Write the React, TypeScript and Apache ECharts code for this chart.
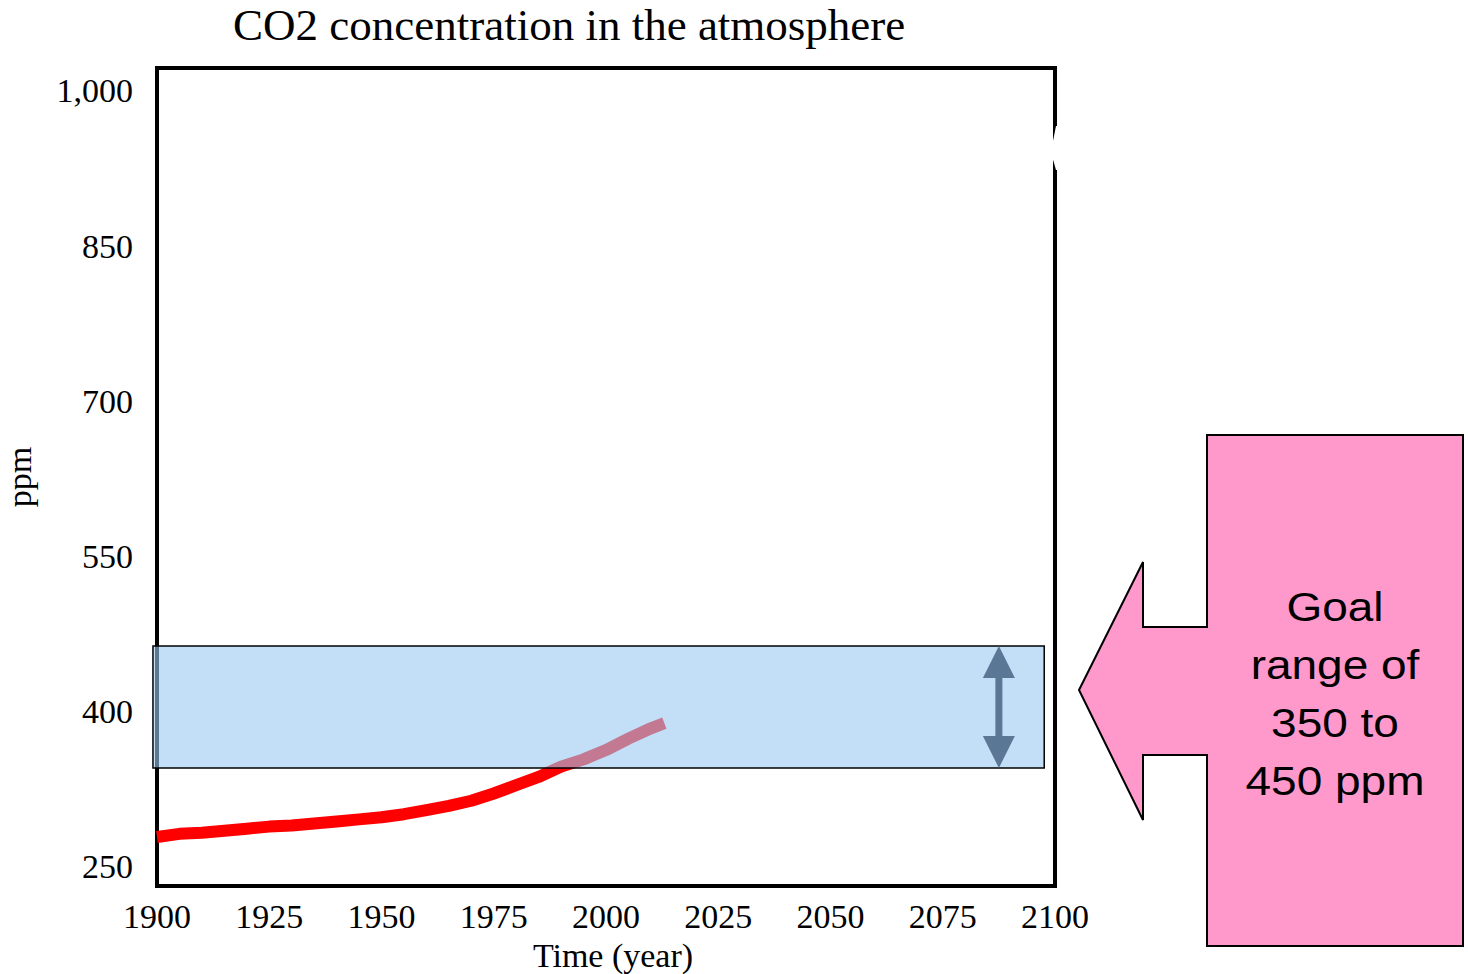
import React, { useEffect, useRef } from "react";
import * as echarts from "echarts";

const years = [1900, 1905, 1910, 1915, 1920, 1925, 1930, 1935, 1940, 1945, 1950, 1955, 1960, 1965, 1970, 1975, 1980, 1985, 1990, 1995, 2000, 2005, 2010, 2013];
const co2 = [279, 282, 283, 285, 287, 289, 290, 292, 294, 296, 298, 301, 305, 309, 314, 321, 329, 337, 347, 354, 363, 374, 384, 389];
const yTicks = [250, 400, 550, 700, 850, 1000];
const goalBand = [[1899.1, 2097.6, 345.6, 463.5]];
const goalArrow = [[2087.5, 345.6, 463.5]];
const titleText = "CO2 concentration in the atmosphere";
const calloutText = "Goal\nrange of\n350 to\n450 ppm";

const serif = "'Liberation Serif', 'Times New Roman', serif";
const sans = "'Liberation Sans', Arial, sans-serif";

export default function App() {
  const ref = useRef<HTMLDivElement>(null);
  useEffect(() => {
    document.body.style.margin = "0";
    const chart = echarts.init(ref.current!, null, { renderer: "svg" });
    chart.setOption({
      animation: false,
      backgroundColor: "#ffffff",
      title: {
        text: titleText,
        left: 228,
        top: -3,
        textStyle: { fontFamily: serif, fontSize: 45, fontWeight: "normal", color: "#000" },
      },
      grid: {
        left: 157,
        right: 413,
        top: 68,
        bottom: 88,
        outerBoundsMode: "none",
        containLabel: false,
        show: true,
        borderColor: "#000",
        borderWidth: 4,
        backgroundColor: "#fff",
      },
      xAxis: {
        type: "value",
        min: 1900,
        max: 2100,
        interval: 25,
        name: "Time (year)",
        nameLocation: "middle",
        nameGap: 52,
        nameTextStyle: { fontFamily: serif, fontSize: 34, color: "#000", padding: [0, 0, 0, 14] },
        axisLine: { show: false },
        axisTick: { show: false },
        splitLine: { show: false },
        axisLabel: {
          fontFamily: serif,
          fontSize: 34,
          color: "#000",
          margin: 13,
          formatter: (v: number) => String(v),
        },
      },
      yAxis: {
        type: "value",
        min: 231.6,
        max: 1022.2,
        name: "ppm",
        nameLocation: "middle",
        nameGap: 121,
        nameRotate: 90,
        nameTextStyle: { fontFamily: serif, fontSize: 34, color: "#000" },
        axisLine: { show: false },
        axisTick: { show: false },
        splitLine: { show: false },
        axisLabel: {
          fontFamily: serif,
          fontSize: 34,
          color: "#000",
          margin: 24,
          customValues: yTicks,
          formatter: (v: number) => v.toLocaleString("en-US"),
        },
      },
      series: [
        {
          type: "line",
          data: years.map((y, i) => [y, co2[i]]),
          showSymbol: false,
          symbol: "none",
          z: 2,
          lineStyle: { color: "#ff0000", width: 12, cap: "butt" },
        },
        {
          type: "custom",
          z: 5,
          clip: false,
          data: goalBand,
          renderItem: (params: any, api: any) => {
            const p1 = api.coord([api.value(0), api.value(3)]);
            const p2 = api.coord([api.value(1), api.value(2)]);
            return {
              type: "rect",
              shape: { x: p1[0], y: p1[1], width: p2[0] - p1[0], height: p2[1] - p1[1] },
              style: { fill: "rgba(153,201,242,0.6)", stroke: "#000", lineWidth: 1.5 },
            };
          },
        },
        {
          type: "custom",
          z: 6,
          clip: false,
          data: goalArrow,
          renderItem: (params: any, api: any) => {
            const top = api.coord([api.value(0), api.value(2)]);
            const bot = api.coord([api.value(0), api.value(1)]);
            const cx = top[0];
            const hw = 16;
            const hh = 32;
            const color = "#5a7795";
            return {
              type: "group",
              children: [
                {
                  type: "rect",
                  shape: { x: cx - 3.5, y: top[1] + hh - 2, width: 7, height: bot[1] - top[1] - 2 * hh + 4 },
                  style: { fill: color },
                },
                {
                  type: "polygon",
                  shape: { points: [[cx, top[1]], [cx - hw, top[1] + hh], [cx + hw, top[1] + hh]] },
                  style: { fill: color },
                },
                {
                  type: "polygon",
                  shape: { points: [[cx, bot[1]], [cx - hw, bot[1] - hh], [cx + hw, bot[1] - hh]] },
                  style: { fill: color },
                },
              ],
            };
          },
        },
      ],
      graphic: [
        {
          type: "polygon",
          z: 10,
          shape: {
            points: [[1059, 126], [1056, 126], [1052, 146], [1052, 156], [1056, 170], [1059, 170]],
          },
          style: { fill: "#fff" },
        },
        {
          type: "polygon",
          z: 10,
          shape: {
            points: [
              [1207, 435], [1463, 435], [1463, 946], [1207, 946], [1207, 755], [1143, 755],
              [1143, 820], [1079, 690], [1143, 562], [1143, 627], [1207, 627],
            ],
          },
          style: { fill: "#ff99cc", stroke: "#000", lineWidth: 2 },
        },
        {
          type: "text",
          z: 11,
          x: 1335,
          y: 694,
          scaleX: 1.15,
          style: {
            text: calloutText,
            font: "40px " + sans,
            fill: "#000",
            textAlign: "center",
            textVerticalAlign: "middle",
            lineHeight: 58,
          },
        },
      ],
    });
    return () => chart.dispose();
  }, []);
  return <div ref={ref} style={{ width: 1468, height: 974 }} />;
}
